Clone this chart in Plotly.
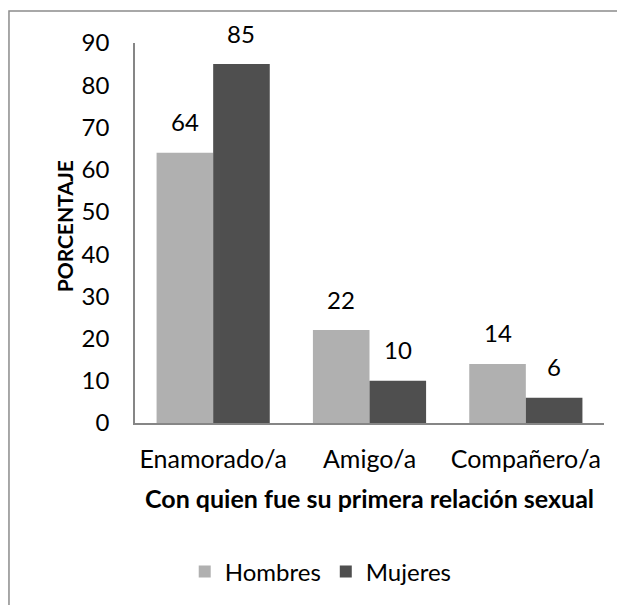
import plotly.graph_objects as go

categories = ["Enamorado/a", "Amigo/a", "Compañero/a"]
hombres = [64, 22, 14]
mujeres = [85, 10, 6]
series_names = ["Hombres", "Mujeres"]
y_ticks = [0, 10, 20, 30, 40, 50, 60, 70, 80, 90]

FONT = "Lato, Carlito, Calibri, sans-serif"
c_light = "#B0B0B0"
c_dark = "#4F4F4F"

fig = go.Figure()
fig.add_trace(go.Bar(x=categories, y=hombres, name=series_names[0], marker=dict(color=c_light, line=dict(width=0))))
fig.add_trace(go.Bar(x=categories, y=mujeres, name=series_names[1], marker=dict(color=c_dark, line=dict(width=0))))

# data labels
annotations = []
for i, cat in enumerate(categories):
    for j, vals in enumerate([hombres, mujeres]):
        off = -0.18 if j == 0 else 0.18
        annotations.append(dict(x=i + off, y=vals[i], xref="x", yref="y", text=str(vals[i]),
                                showarrow=False, xanchor="center", yanchor="middle", yshift=31,
                                font=dict(family=FONT, size=24, color="#000")))

annotations.append(dict(x=-0.151, y=0.518, xref="paper", yref="paper", text="<b>PORCENTAJE</b>",
                        textangle=-90, showarrow=False, xanchor="center", yanchor="middle",
                        font=dict(family=FONT, size=21, color="#000")))
annotations.append(dict(x=0.5, y=-0.197, xref="paper", yref="paper", text="<b>Con quien fue su primera relación sexual</b>",
                        showarrow=False, xanchor="center", yanchor="middle", font=dict(family=FONT, size=25, color="#000")))

# page body has an 8px margin, so the figure is offset by 8px
fig.update_layout(
    width=625, height=605,
    margin=dict(l=127, r=29, t=35, b=190, autoexpand=False),
    paper_bgcolor="white", plot_bgcolor="white",
    barmode="group", bargap=0.276, bargroupgap=0,
    font=dict(family=FONT, size=24, color="#000"),
    showlegend=True,
    legend=dict(orientation="h", x=0.396, xanchor="center", y=-0.392, yanchor="middle",
                font=dict(family=FONT, size=24, color="#000"), itemwidth=30, traceorder="normal"),
    annotations=annotations,
    shapes=[dict(type="rect", xref="paper", yref="paper", x0=-0.2687, x1=1.2, y0=-0.7, y1=1.0842,
                 line=dict(color="#8C8C8C", width=1.5), fillcolor="rgba(0,0,0,0)", layer="below")],
)
fig.update_xaxes(showline=True, linecolor="#868686", linewidth=1.5, showgrid=False, ticks="", automargin=False,
                 ticklabelstandoff=13, tickfont=dict(family=FONT, size=25, color="#000"))
fig.update_yaxes(range=[0, 90], tickvals=y_ticks, showline=True, linecolor="#868686", linewidth=1.5,
                 showgrid=False, zeroline=False, ticks="", ticklabelstandoff=19, automargin=False,
                 tickfont=dict(family=FONT, size=24, color="#000"))

fig.write_html("out.html")
